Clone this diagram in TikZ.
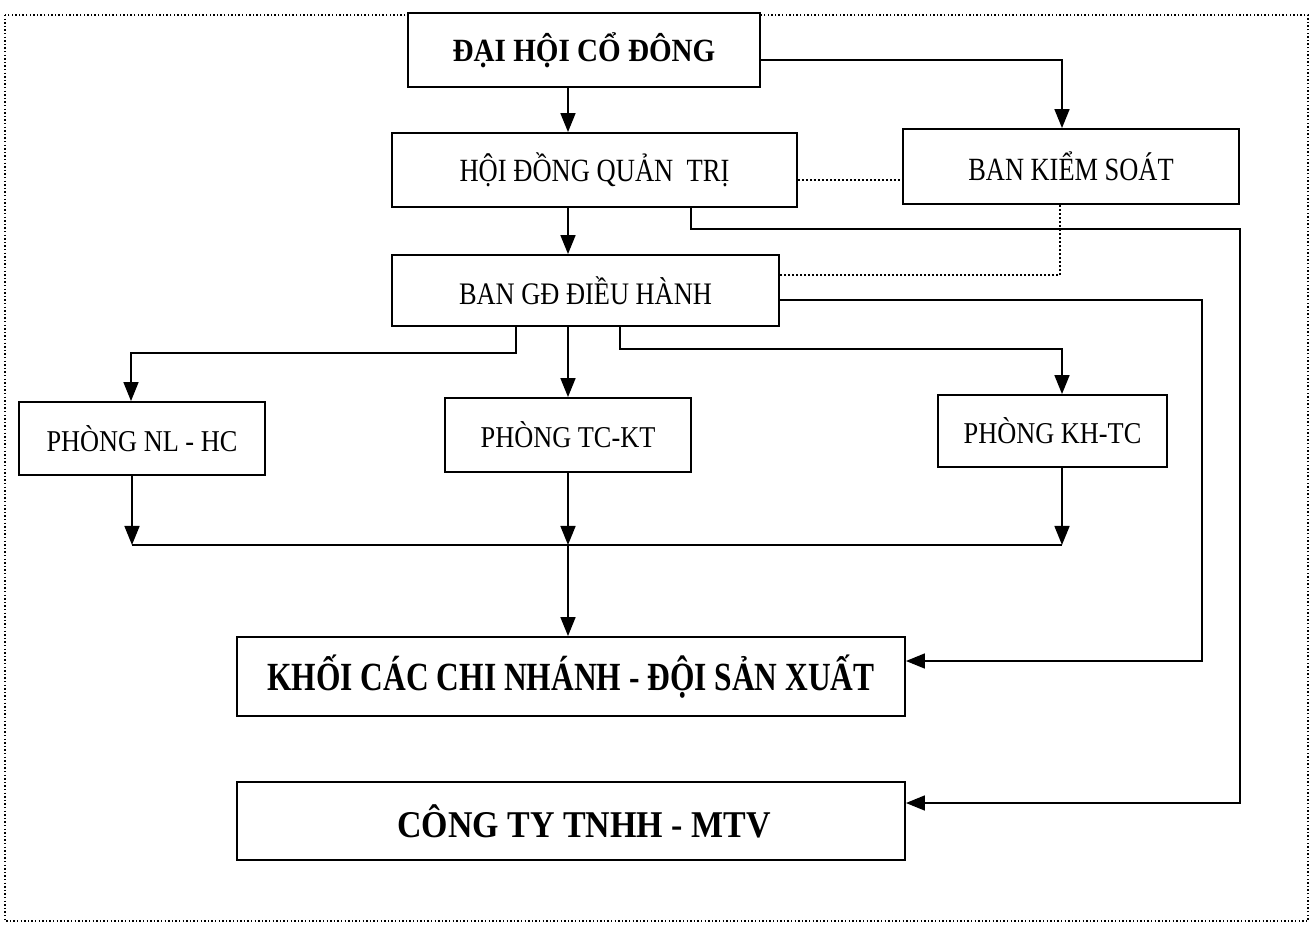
\documentclass[tikz,border=0pt]{standalone}
\usepackage{fontspec}
\usepackage{graphicx}
\setmainfont{Liberation Serif}
\usetikzlibrary{arrows.meta,calc}
\newcommand{\mytx}[3]{\scalebox{#1}[1.08]{\fontsize{#2}{#2}\selectfont #3}}
\tikzset{
  box/.style={draw, line width=1.9pt, fill=white, inner sep=0pt, align=center},
  conn/.style={line width=1.7pt},
  arr/.style={conn, -{Triangle[length=19pt,width=15pt]}},
  dotline/.style={line width=1.6pt, dash pattern=on 1.6pt off 2.4pt},
  frame/.style={line width=1.4pt, dash pattern=on 1.4pt off 2.2pt}
}
\begin{document}
\begin{tikzpicture}[x=1pt,y=-1pt]
\useasboundingbox (0,0) rectangle (1312,929);
\draw[frame] (5,15) rectangle (1308,921);

\node[box, minimum width=352pt, minimum height=74pt] (dh) at (584,50)
  {\mytx{0.97}{30}{\bfseries ĐẠI HỘI CỔ ĐÔNG}};
\node[box, minimum width=405pt, minimum height=74pt] (hd) at (594.5,170)
  {\mytx{0.885}{30}{HỘI ĐỒNG QUẢN\ \ TRỊ}};
\node[box, minimum width=336pt, minimum height=75pt] (bks) at (1071,166.5)
  {\mytx{0.88}{30}{BAN KIỂM SOÁT}};
\node[box, minimum width=387pt, minimum height=71pt] (gd) at (585.5,290.5)
  {\mytx{0.91}{29}{BAN GĐ ĐIỀU HÀNH}};
\node[box, minimum width=246pt, minimum height=73pt] (nl) at (142,438.5)
  {\mytx{0.94}{28}{PHÒNG NL - HC}};
\node[box, minimum width=246pt, minimum height=74pt] (tc) at (568,435)
  {\mytx{0.94}{28}{PHÒNG TC-KT}};
\node[box, minimum width=229pt, minimum height=72pt] (kh) at (1052.5,431)
  {\mytx{0.94}{28}{PHÒNG KH-TC}};
\node[box, minimum width=668pt, minimum height=79pt] (kb) at (571,676.5)
  {\mytx{0.85}{37}{\bfseries KHỐI CÁC CHI NHÁNH - ĐỘI SẢN XUẤT}};
\node[box, minimum width=668pt, minimum height=78pt] (ct) at (571,821)
  {\hspace*{26pt}\mytx{0.97}{35}{\bfseries CÔNG TY TNHH - MTV}};

% main trunk
\draw[arr] (dh.south -| tc.north) -- (hd.north -| tc.north);
\draw[arr] (hd.south -| tc.north) -- (gd.north -| tc.north);
\draw[arr] (gd.south -| tc.north) -- (tc.north);

% DHCD -> BKS
\draw[arr] ($(dh.east)+(0,10)$) -| ($(bks.north)+(-9,0)$);
% HDQT ... BKS
\draw[dotline] ($(hd.east)+(0,10)$) coordinate (p1) -- (bks.west |- p1);
% BKS ... BAN GD
\draw[dotline] ($(bks.south)+(-11,0)$) |- ($(gd.east)+(0,-15.5)$);
% HDQT -> CONG TY
\draw[arr] ($(hd.south)+(96.5,0)$) -- ++(0,21) -- ++(549,0) |- ($(ct.east)+(0,-18)$);
% BAN GD -> KHOI
\draw[arr] ($(gd.east)+(0,9.5)$) -- ++(422,0) |- ($(kb.east)+(0,-15.5)$);
% BAN GD -> phong
\draw[arr] ($(gd.south)+(-69.5,0)$) -- ++(0,26) -| ($(nl.north)+(-11,0)$);
\draw[arr] ($(gd.south)+(34.5,0)$) -- ++(0,22) -| ($(kh.north)+(9.5,0)$);

% phong -> bar
\draw[conn] ($(nl.south)+(-10,69)$) -- ($(kh.south)+(9.5,77)$);
\draw[arr] ($(nl.south)+(-10,0)$) -- ++(0,69);
\draw[arr] (tc.south) -- ++(0,72);
\draw[arr] ($(kh.south)+(9.5,0)$) -- ++(0,77);
\draw[arr] ($(tc.south)+(0,72)$) -- (kb.north -| tc.south);
\end{tikzpicture}
\end{document}
